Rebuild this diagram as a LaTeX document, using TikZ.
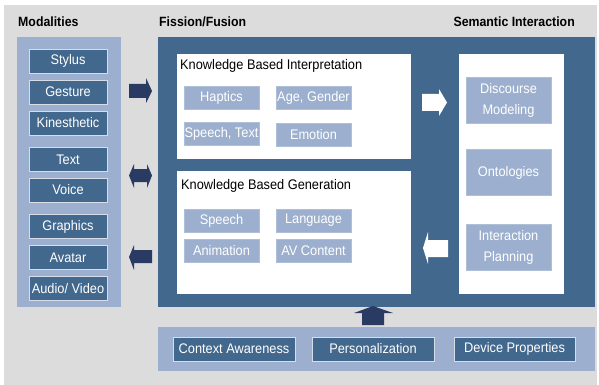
\documentclass[tikz,border=0pt]{standalone}
\usepackage{fontspec}
\setmainfont{Liberation Sans}[FakeStretch=0.92]
\definecolor{bggray}{HTML}{DCDCDC}
\definecolor{paleblue}{HTML}{9CAFCE}
\definecolor{steelblue}{HTML}{42688E}
\definecolor{navyblue}{HTML}{2A3B63}
\definecolor{rimblue}{HTML}{D6DDE8}
\begin{document}
\begin{tikzpicture}[x=1pt,y=-1pt,
  panel/.style={rectangle, inner sep=0pt, outer sep=0pt},
  modbox/.style={rectangle, fill=steelblue, draw=rimblue, line width=0.9pt,
    text=white, inner sep=0pt, minimum width=78, minimum height=24,
    font=\fontsize{13.9}{15}\selectfont},
  featbox/.style={rectangle, fill=paleblue, draw=paleblue!80!white, line width=0.6pt,
    text=white, inner sep=0pt, minimum width=75, minimum height=23,
    font=\fontsize{13.9}{15}\selectfont},
  sembox/.style={featbox, minimum width=85, minimum height=46, align=center,
    font=\fontsize{13.9}{21}\selectfont},
  ctxbox/.style={modbox, minimum width=122},
  heading/.style={anchor=base west, inner sep=0pt, font=\bfseries\fontsize{13.4}{15}\selectfont},
  subheading/.style={anchor=base west, inner sep=0pt, font=\fontsize{13.9}{15}\selectfont},
  navyarrow/.style={fill=navyblue},
  whitearrow/.style={fill=white}]

% canvas
\fill[white] (0,0) rectangle (599,385);
\fill[bggray] (4,5) rectangle (597,385);

% column headings
\node[heading] (tmod) at (18,27) {Modalities};
\node[heading] (tfis) at (159,27) {Fission/Fusion};
\node[heading, anchor=base east] (tsem) at (575,27) {Semantic Interaction};

% panels
\node[panel, fill=paleblue, minimum width=104, minimum height=270] (modal) at (69,172) {};
\node[panel, fill=steelblue, minimum width=437, minimum height=270] (fission) at (376.5,172) {};
\node[panel, fill=paleblue, minimum width=437, minimum height=44] (context) at (376.5,349) {};
\node[panel, fill=white, minimum width=234, minimum height=105] (interp) at (294,106.5) {};
\node[panel, fill=white, minimum width=234, minimum height=123] (gener) at (294,232.5) {};
\node[panel, fill=white, minimum width=105, minimum height=240] (seman) at (511.5,174) {};

% modalities
\node[modbox] (stylus)  at (68,61)    {Stylus};
\node[modbox] (gesture) at (68,92)    {Gesture};
\node[modbox] (kines)   at (68,123)   {Kinesthetic};
\node[modbox] (text)    at (68,159.5) {Text};
\node[modbox] (voice)   at (68,190)   {Voice};
\node[modbox] (graph)   at (68,226.5) {Graphics};
\node[modbox] (avatar)  at (68,257.5) {Avatar};
\node[modbox] (audio)   at (68,288.5) {Audio/ Video};

% interpretation
\node[subheading] (tint) at (180,70) {Knowledge Based Interpretation};
\node[featbox] (haptics) at (221.5,97.5) {Haptics};
\node[featbox] (agegen)  at (313.5,98)   {Age, Gender};
\node[featbox] (spetxt)  at (221.5,134)  {Speech, Text};
\node[featbox] (emotion) at (313.5,135)  {Emotion};

% generation
\node[subheading] (tgen) at (181,189) {Knowledge Based Generation};
\node[featbox] (speech)  at (221.5,220.5) {Speech};
\node[featbox] (lang)    at (313.5,220.5) {Language};
\node[featbox] (anim)    at (221.5,250.5) {Animation};
\node[featbox] (avcont)  at (313.5,250.5) {AV Content};

% semantic interaction
\node[sembox] (disc) at (508.5,100)   {Discourse\\Modeling};
\node[sembox] (onto) at (508.5,172.5) {Ontologies};
\node[sembox] (plan) at (508.5,247)   {Interaction\\Planning};

% context
\node[ctxbox] (aware) at (234,349)   {Context Awareness};
\node[ctxbox] (pers)  at (373,349)   {Personalization};
\node[ctxbox, minimum width=121] (device) at (514.5,349) {Device Properties};

% block arrows between modalities and fission/fusion
\fill[navyarrow] (129,84) -- (146,84) -- (146,78) -- (152,91) -- (146,103) -- (146,98) -- (129,98) -- cycle;
\fill[navyarrow] (129,175.5) -- (134,164) -- (134,169) -- (147,169) -- (147,164) -- (152,175.5)
  -- (147,188) -- (147,182) -- (134,182) -- (134,188) -- cycle;
\fill[navyarrow] (129,257) -- (134,245) -- (134,250) -- (152,250) -- (152,263) -- (134,263) -- (134,270) -- cycle;

% block arrows to and from semantic interaction
\fill[whitearrow] (422,94) -- (439,94) -- (439,89) -- (447,102.5) -- (439,116) -- (439,111) -- (422,111) -- cycle;
\fill[whitearrow] (423,248) -- (428,232) -- (428,240) -- (448,240) -- (448,257) -- (428,257) -- (428,264) -- cycle;

% context feeds upward
\fill[navyarrow] (362,325) -- (362,313) -- (354,313) -- (373,306) -- (393,313) -- (384,313) -- (384,325) -- cycle;

\end{tikzpicture}
\end{document}
